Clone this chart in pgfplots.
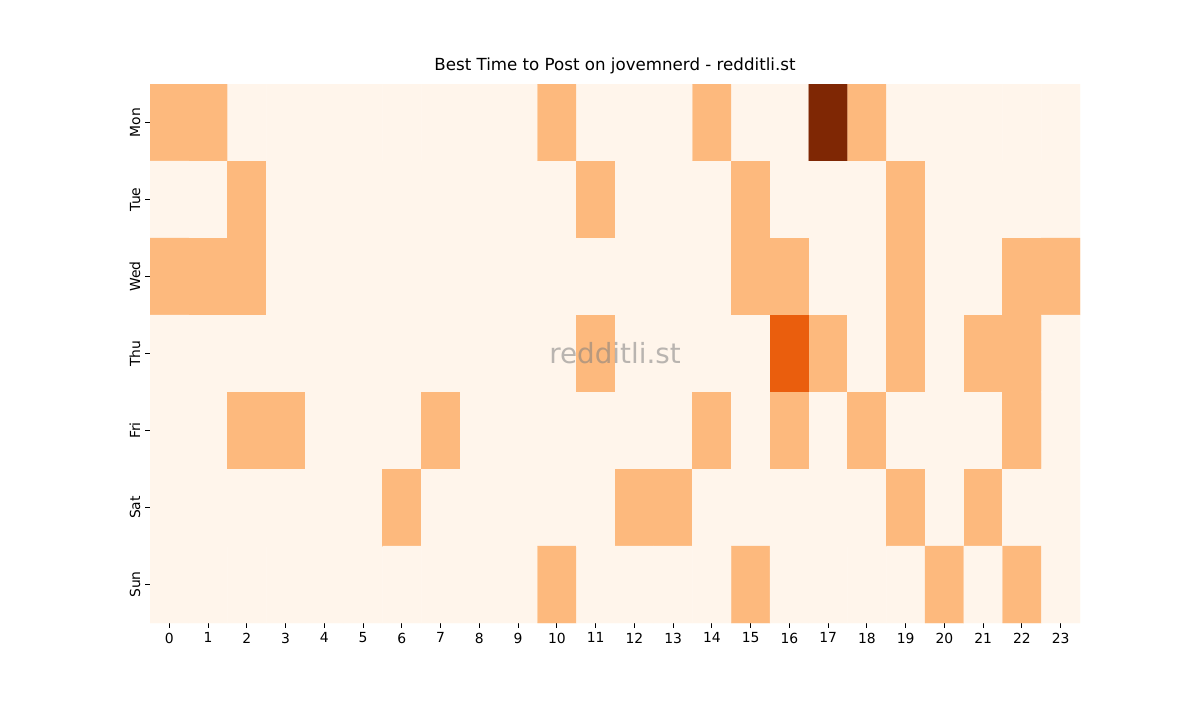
\documentclass[border=0pt]{standalone}
\usepackage{pgfplots}
\pgfplotsset{compat=1.18}
\usepackage{fontspec}
\setmainfont{DejaVu Sans}

\begin{document}
\begin{tikzpicture}
  \begin{axis}[
    name=hm,
    at={(0,0)}, anchor=south west,
    scale only axis,
    width=669.6pt,
    height=388.08pt,
    title={Best Time to Post on jovemnerd - redditli.st},
    title style={font=\fontsize{12}{14}\selectfont, yshift=-2pt},
    xmin=-0.5, xmax=23.5,
    ymin=-0.5, ymax=6.5,
    y dir=reverse,
    xtick={0,...,23},
    ytick={0,...,6},
    yticklabels={Mon,Tue,Wed,Thu,Fri,Sat,Sun},
    yticklabel style={rotate=90, anchor=south, font=\fontsize{10}{12}\selectfont},
    xticklabel style={font=\fontsize{10}{12}\selectfont},
    xtick pos=left, ytick pos=left,
    tick align=outside,
    major tick length=3.5pt,
    tick style={black, line width=0.8pt},
    axis line style={draw=none},
    colormap={oranges}{rgb255(0cm)=(255,245,235) rgb255(1cm)=(253,185,125) rgb255(2cm)=(234,94,13) rgb255(3cm)=(127,39,4)},
    point meta min=0, point meta max=3,
    /pgf/number format/assume math mode=true,
  ]
  % one line per weekday, hours 0..23
  \addplot[matrix plot*, shader=faceted, faceted color=mapped color, line width=0.3pt,
    mesh/cols=24, point meta=explicit] coordinates {
    (0,0)[1] (1,0)[1] (2,0)[0] (3,0)[0] (4,0)[0] (5,0)[0] (6,0)[0] (7,0)[0] (8,0)[0] (9,0)[0] (10,0)[1] (11,0)[0] (12,0)[0] (13,0)[0] (14,0)[1] (15,0)[0] (16,0)[0] (17,0)[3] (18,0)[1] (19,0)[0] (20,0)[0] (21,0)[0] (22,0)[0] (23,0)[0]
    (0,1)[0] (1,1)[0] (2,1)[1] (3,1)[0] (4,1)[0] (5,1)[0] (6,1)[0] (7,1)[0] (8,1)[0] (9,1)[0] (10,1)[0] (11,1)[1] (12,1)[0] (13,1)[0] (14,1)[0] (15,1)[1] (16,1)[0] (17,1)[0] (18,1)[0] (19,1)[1] (20,1)[0] (21,1)[0] (22,1)[0] (23,1)[0]
    (0,2)[1] (1,2)[1] (2,2)[1] (3,2)[0] (4,2)[0] (5,2)[0] (6,2)[0] (7,2)[0] (8,2)[0] (9,2)[0] (10,2)[0] (11,2)[0] (12,2)[0] (13,2)[0] (14,2)[0] (15,2)[1] (16,2)[1] (17,2)[0] (18,2)[0] (19,2)[1] (20,2)[0] (21,2)[0] (22,2)[1] (23,2)[1]
    (0,3)[0] (1,3)[0] (2,3)[0] (3,3)[0] (4,3)[0] (5,3)[0] (6,3)[0] (7,3)[0] (8,3)[0] (9,3)[0] (10,3)[0] (11,3)[1] (12,3)[0] (13,3)[0] (14,3)[0] (15,3)[0] (16,3)[2] (17,3)[1] (18,3)[0] (19,3)[1] (20,3)[0] (21,3)[1] (22,3)[1] (23,3)[0]
    (0,4)[0] (1,4)[0] (2,4)[1] (3,4)[1] (4,4)[0] (5,4)[0] (6,4)[0] (7,4)[1] (8,4)[0] (9,4)[0] (10,4)[0] (11,4)[0] (12,4)[0] (13,4)[0] (14,4)[1] (15,4)[0] (16,4)[1] (17,4)[0] (18,4)[1] (19,4)[0] (20,4)[0] (21,4)[0] (22,4)[1] (23,4)[0]
    (0,5)[0] (1,5)[0] (2,5)[0] (3,5)[0] (4,5)[0] (5,5)[0] (6,5)[1] (7,5)[0] (8,5)[0] (9,5)[0] (10,5)[0] (11,5)[0] (12,5)[1] (13,5)[1] (14,5)[0] (15,5)[0] (16,5)[0] (17,5)[0] (18,5)[0] (19,5)[1] (20,5)[0] (21,5)[1] (22,5)[0] (23,5)[0]
    (0,6)[0] (1,6)[0] (2,6)[0] (3,6)[0] (4,6)[0] (5,6)[0] (6,6)[0] (7,6)[0] (8,6)[0] (9,6)[0] (10,6)[1] (11,6)[0] (12,6)[0] (13,6)[0] (14,6)[0] (15,6)[1] (16,6)[0] (17,6)[0] (18,6)[0] (19,6)[0] (20,6)[1] (21,6)[0] (22,6)[1] (23,6)[0]
  };
  \node[text=gray, text opacity=0.55, font=\fontsize{20}{24}\selectfont] at (rel axis cs:0.5,0.5) {redditli.st};
  \end{axis}
  \pgfresetboundingbox
  \useasboundingbox (-108pt,-55.44pt) rectangle (756pt,448.56pt);
\end{tikzpicture}
\end{document}
